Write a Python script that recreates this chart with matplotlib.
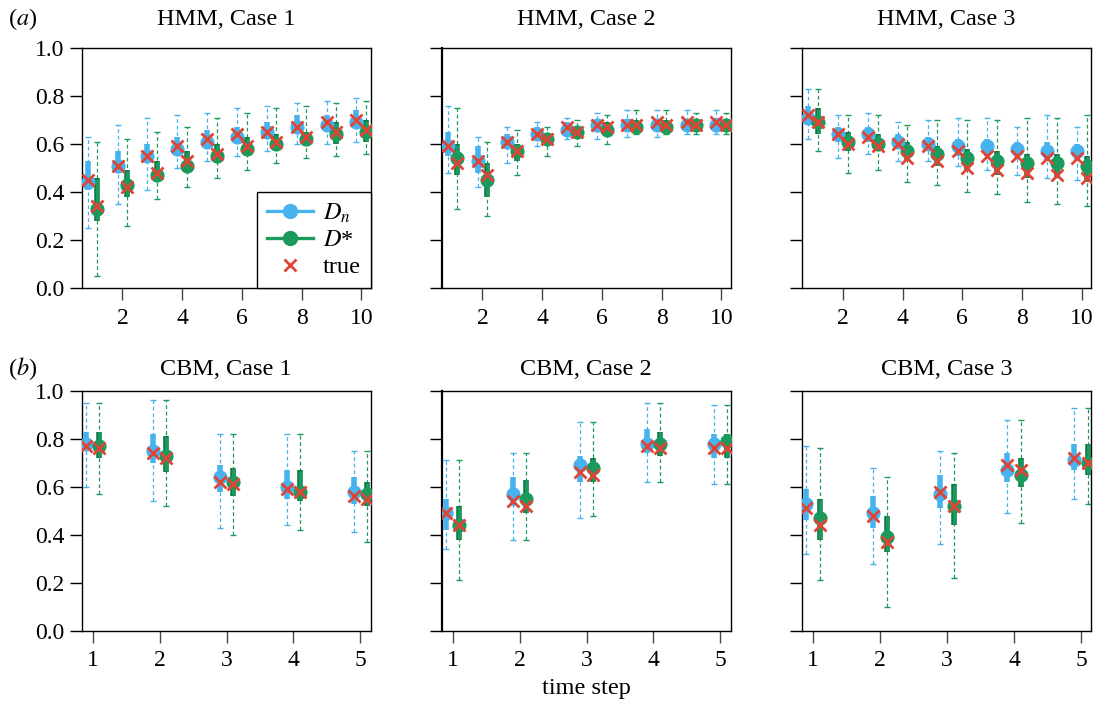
import matplotlib
matplotlib.use("Agg")
import matplotlib.pyplot as plt
from matplotlib.lines import Line2D
import numpy as np

plt.rcParams['font.family'] = ['Liberation Serif', 'DejaVu Serif']
plt.rcParams['mathtext.fontset'] = 'stix'

# ------------ data ------------------------------------- #
hmm_steps = [1, 2, 3, 4, 5, 6, 7, 8, 9, 10]
cbm_steps = [1, 2, 3, 4, 5]

# HMM, Case 1
h1_dn_lo   = [0.25, 0.35, 0.41, 0.50, 0.53, 0.55, 0.57, 0.60, 0.60, 0.61]
h1_dn_q1   = [0.41, 0.48, 0.52, 0.56, 0.59, 0.61, 0.62, 0.65, 0.66, 0.67]
h1_dn_med  = [0.44, 0.51, 0.55, 0.58, 0.61, 0.63, 0.65, 0.67, 0.68, 0.69]
h1_dn_q3   = [0.53, 0.57, 0.60, 0.63, 0.66, 0.67, 0.69, 0.72, 0.72, 0.74]
h1_dn_hi   = [0.63, 0.68, 0.71, 0.72, 0.73, 0.75, 0.76, 0.77, 0.78, 0.79]
h1_dn_true = [0.45, 0.51, 0.55, 0.59, 0.62, 0.64, 0.65, 0.67, 0.69, 0.70]
h1_ds_lo   = [0.05, 0.26, 0.37, 0.42, 0.46, 0.49, 0.52, 0.54, 0.55, 0.56]
h1_ds_q1   = [0.28, 0.38, 0.44, 0.49, 0.52, 0.55, 0.57, 0.59, 0.60, 0.61]
h1_ds_med  = [0.33, 0.43, 0.47, 0.51, 0.55, 0.58, 0.60, 0.62, 0.64, 0.65]
h1_ds_q3   = [0.46, 0.49, 0.53, 0.57, 0.60, 0.63, 0.64, 0.65, 0.69, 0.70]
h1_ds_hi   = [0.61, 0.62, 0.65, 0.67, 0.71, 0.73, 0.75, 0.76, 0.77, 0.78]
h1_ds_true = [0.34, 0.42, 0.48, 0.53, 0.56, 0.59, 0.61, 0.63, 0.65, 0.66]

# HMM, Case 2
h2_dn_lo   = [0.48, 0.42, 0.52, 0.59, 0.62, 0.62, 0.63, 0.63, 0.64, 0.64]
h2_dn_q1   = [0.55, 0.48, 0.58, 0.62, 0.64, 0.65, 0.66, 0.66, 0.66, 0.66]
h2_dn_med  = [0.59, 0.53, 0.61, 0.64, 0.66, 0.68, 0.68, 0.68, 0.68, 0.68]
h2_dn_q3   = [0.65, 0.59, 0.64, 0.67, 0.69, 0.70, 0.70, 0.70, 0.70, 0.71]
h2_dn_hi   = [0.76, 0.63, 0.67, 0.69, 0.71, 0.73, 0.74, 0.74, 0.74, 0.74]
h2_dn_true = [0.59, 0.53, 0.61, 0.64, 0.67, 0.68, 0.68, 0.69, 0.69, 0.69]
h2_ds_lo   = [0.33, 0.30, 0.47, 0.55, 0.59, 0.60, 0.64, 0.64, 0.64, 0.64]
h2_ds_q1   = [0.47, 0.38, 0.53, 0.60, 0.63, 0.64, 0.65, 0.65, 0.65, 0.65]
h2_ds_med  = [0.54, 0.45, 0.57, 0.62, 0.65, 0.66, 0.67, 0.67, 0.68, 0.68]
h2_ds_q3   = [0.60, 0.52, 0.60, 0.64, 0.67, 0.69, 0.70, 0.70, 0.70, 0.70]
h2_ds_hi   = [0.75, 0.61, 0.66, 0.67, 0.70, 0.72, 0.74, 0.74, 0.73, 0.73]
h2_ds_true = [0.52, 0.47, 0.57, 0.62, 0.65, 0.67, 0.68, 0.68, 0.68, 0.68]

# HMM, Case 3
h3_dn_lo   = [0.62, 0.54, 0.56, 0.53, 0.53, 0.51, 0.49, 0.47, 0.46, 0.45]
h3_dn_q1   = [0.68, 0.61, 0.61, 0.58, 0.57, 0.55, 0.55, 0.54, 0.53, 0.53]
h3_dn_med  = [0.71, 0.64, 0.64, 0.61, 0.60, 0.59, 0.59, 0.58, 0.57, 0.57]
h3_dn_q3   = [0.76, 0.67, 0.67, 0.64, 0.63, 0.62, 0.62, 0.61, 0.61, 0.60]
h3_dn_hi   = [0.83, 0.72, 0.73, 0.69, 0.70, 0.71, 0.71, 0.67, 0.72, 0.67]
h3_dn_true = [0.72, 0.64, 0.63, 0.60, 0.59, 0.57, 0.55, 0.55, 0.54, 0.54]
h3_ds_lo   = [0.57, 0.48, 0.49, 0.44, 0.43, 0.40, 0.39, 0.36, 0.35, 0.34]
h3_ds_q1   = [0.64, 0.57, 0.57, 0.53, 0.51, 0.49, 0.47, 0.46, 0.46, 0.44]
h3_ds_med  = [0.69, 0.61, 0.60, 0.57, 0.56, 0.54, 0.53, 0.52, 0.52, 0.51]
h3_ds_q3   = [0.75, 0.65, 0.64, 0.61, 0.59, 0.58, 0.57, 0.56, 0.56, 0.55]
h3_ds_hi   = [0.83, 0.72, 0.72, 0.68, 0.70, 0.70, 0.70, 0.71, 0.71, 0.72]
h3_ds_true = [0.69, 0.60, 0.59, 0.54, 0.53, 0.50, 0.49, 0.48, 0.47, 0.46]

# CBM, Case 1
c1_dn_lo   = [0.60, 0.54, 0.43, 0.44, 0.41]
c1_dn_q1   = [0.75, 0.70, 0.58, 0.55, 0.53]
c1_dn_med  = [0.78, 0.75, 0.64, 0.60, 0.58]
c1_dn_q3   = [0.83, 0.82, 0.69, 0.67, 0.64]
c1_dn_hi   = [0.95, 0.96, 0.82, 0.82, 0.75]
c1_dn_true = [0.77, 0.74, 0.62, 0.59, 0.56]
c1_ds_lo   = [0.57, 0.52, 0.40, 0.42, 0.37]
c1_ds_q1   = [0.72, 0.66, 0.56, 0.54, 0.52]
c1_ds_med  = [0.77, 0.73, 0.62, 0.58, 0.57]
c1_ds_q3   = [0.83, 0.81, 0.68, 0.67, 0.62]
c1_ds_hi   = [0.95, 0.96, 0.82, 0.82, 0.75]
c1_ds_true = [0.76, 0.72, 0.61, 0.58, 0.55]

# CBM, Case 2
c2_dn_lo   = [0.34, 0.38, 0.47, 0.62, 0.61]
c2_dn_q1   = [0.42, 0.52, 0.62, 0.74, 0.72]
c2_dn_med  = [0.49, 0.57, 0.69, 0.78, 0.78]
c2_dn_q3   = [0.55, 0.64, 0.73, 0.84, 0.82]
c2_dn_hi   = [0.71, 0.74, 0.87, 0.95, 0.94]
c2_dn_true = [0.49, 0.54, 0.66, 0.77, 0.76]
c2_ds_lo   = [0.21, 0.38, 0.48, 0.62, 0.61]
c2_ds_q1   = [0.38, 0.49, 0.62, 0.73, 0.72]
c2_ds_med  = [0.44, 0.55, 0.68, 0.78, 0.79]
c2_ds_q3   = [0.52, 0.63, 0.72, 0.83, 0.82]
c2_ds_hi   = [0.71, 0.74, 0.87, 0.95, 0.94]
c2_ds_true = [0.44, 0.52, 0.65, 0.76, 0.76]

# CBM, Case 3
c3_dn_lo   = [0.32, 0.28, 0.36, 0.49, 0.55]
c3_dn_q1   = [0.46, 0.43, 0.51, 0.62, 0.67]
c3_dn_med  = [0.53, 0.49, 0.57, 0.67, 0.71]
c3_dn_q3   = [0.59, 0.56, 0.65, 0.74, 0.78]
c3_dn_hi   = [0.77, 0.68, 0.75, 0.88, 0.93]
c3_dn_true = [0.51, 0.48, 0.58, 0.69, 0.72]
c3_ds_lo   = [0.21, 0.10, 0.22, 0.45, 0.53]
c3_ds_q1   = [0.38, 0.33, 0.44, 0.60, 0.65]
c3_ds_med  = [0.47, 0.39, 0.52, 0.65, 0.70]
c3_ds_q3   = [0.55, 0.48, 0.61, 0.72, 0.78]
c3_ds_hi   = [0.76, 0.64, 0.74, 0.88, 0.93]
c3_ds_true = [0.44, 0.37, 0.52, 0.67, 0.70]

titles = ['HMM, Case 1', 'HMM, Case 2', 'HMM, Case 3',
          'CBM, Case 1', 'CBM, Case 2', 'CBM, Case 3']

# ------------ estilo -------------- #
BLUE = '#47B2EE'
GREEN = '#1A9A5C'
GREEN_DK = '#0B7A45'
RED = '#DF4537'

W, H = 1100, 702
fig = plt.figure(figsize=(W / 100, H / 100), dpi=100)

col_left = [81.5, 441.5, 802]
ax_w = 289
row_top = [48, 390.7]
ax_h = 240


def draw_series(ax, x, lo, q1, med, q3, hi, true, color, box_edge=None):
    x = np.asarray(x, dtype=float)
    # whiskers (dashed) with small caps
    ax.vlines(x, lo, hi, colors=color, linestyles=(0, (3, 2.2)), linewidth=0.9, zorder=2)
    ax.plot(x, lo, linestyle='none', marker='_', ms=4, mew=1.0, color=color, zorder=2)
    ax.plot(x, hi, linestyle='none', marker='_', ms=4, mew=1.0, color=color, zorder=2)
    # box
    if box_edge is not None:
        ax.vlines(x, q1, q3, colors=box_edge, linewidth=4.0, zorder=3)
        ax.vlines(x, np.array(q1) + 0.004, np.array(q3) - 0.004, colors=color, linewidth=2.2, zorder=3)
    else:
        ax.vlines(x, q1, q3, colors=color, linewidth=4.0, zorder=3)
    # median dot
    ax.plot(x, med, linestyle='none', marker='o', ms=9.2, color=color, mec=color, zorder=4)
    # true
    ax.plot(x, true, linestyle='none', marker='x', ms=8, mew=2.0, color=RED, zorder=5)


panels = [
    (hmm_steps, 0.16, (h1_dn_lo, h1_dn_q1, h1_dn_med, h1_dn_q3, h1_dn_hi, h1_dn_true),
     (h1_ds_lo, h1_ds_q1, h1_ds_med, h1_ds_q3, h1_ds_hi, h1_ds_true)),
    (hmm_steps, 0.16, (h2_dn_lo, h2_dn_q1, h2_dn_med, h2_dn_q3, h2_dn_hi, h2_dn_true),
     (h2_ds_lo, h2_ds_q1, h2_ds_med, h2_ds_q3, h2_ds_hi, h2_ds_true)),
    (hmm_steps, 0.16, (h3_dn_lo, h3_dn_q1, h3_dn_med, h3_dn_q3, h3_dn_hi, h3_dn_true),
     (h3_ds_lo, h3_ds_q1, h3_ds_med, h3_ds_q3, h3_ds_hi, h3_ds_true)),
    (cbm_steps, 0.10, (c1_dn_lo, c1_dn_q1, c1_dn_med, c1_dn_q3, c1_dn_hi, c1_dn_true),
     (c1_ds_lo, c1_ds_q1, c1_ds_med, c1_ds_q3, c1_ds_hi, c1_ds_true)),
    (cbm_steps, 0.10, (c2_dn_lo, c2_dn_q1, c2_dn_med, c2_dn_q3, c2_dn_hi, c2_dn_true),
     (c2_ds_lo, c2_ds_q1, c2_ds_med, c2_ds_q3, c2_ds_hi, c2_ds_true)),
    (cbm_steps, 0.10, (c3_dn_lo, c3_dn_q1, c3_dn_med, c3_dn_q3, c3_dn_hi, c3_dn_true),
     (c3_ds_lo, c3_ds_q1, c3_ds_med, c3_ds_q3, c3_ds_hi, c3_ds_true)),
]

axes = []
for k, (steps, off, dn, ds) in enumerate(panels):
    r, c = divmod(k, 3)
    left = col_left[c] / W
    bottom = (H - row_top[r] - ax_h) / H
    ax = fig.add_axes([left, bottom, ax_w / W, ax_h / H])
    axes.append(ax)

    xs = np.array(steps, dtype=float)
    draw_series(ax, xs - off, *dn, BLUE)
    draw_series(ax, xs + off, *ds, GREEN, box_edge=GREEN_DK)

    ax.set_ylim(0, 1)
    ax.set_yticks([0.0, 0.2, 0.4, 0.6, 0.8, 1.0])
    if r == 0:
        ax.set_xlim(0.63, 10.31)
        ax.set_xticks([2, 4, 6, 8, 10])
    else:
        ax.set_xlim(0.835, 5.15)
        ax.set_xticks([1, 2, 3, 4, 5])

    if c == 0:
        ax.set_yticklabels(['0.0', '0.2', '0.4', '0.6', '0.8', '1.0'])
    else:
        ax.set_yticklabels([])

    ax.tick_params(axis='y', direction='out', length=8.6, width=1.0, pad=4.0,
                   labelsize=17, color='black')
    ax.tick_params(axis='x', direction='out', length=8.6, width=1.0, pad=5.5,
                   labelsize=17, color='#444444')
    for sp in ax.spines.values():
        sp.set_linewidth(1.0)
        sp.set_color('black')
    if c == 1:
        ax.spines['left'].set_linewidth(1.6)

    # titulo
    ybase = [25, 375][r]
    fig.text((col_left[c] + ax_w / 2) / W, (H - ybase) / H, titles[k],
             ha='center', va='baseline', fontsize=17.5)

# rotulos dos paineis
fig.text(8 / W, (H - 25) / H, '($a$)', ha='left', va='baseline', fontsize=17.5)
fig.text(8 / W, (H - 375) / H, '($b$)', ha='left', va='baseline', fontsize=17.5)

# eixo x
fig.text((col_left[1] + ax_w / 2) / W, (H - 694) / H, 'time step',
         ha='center', va='baseline', fontsize=17.5)

# legenda
handles = [
    Line2D([], [], color=BLUE, lw=2.4, marker='o', ms=10),
    Line2D([], [], color=GREEN, lw=2.4, marker='o', ms=10),
    Line2D([], [], color=RED, lw=0, marker='x', ms=8, mew=2.0),
]
leg = axes[0].legend(handles, ['$D_n$', '$D$*', 'true'], loc='lower right',
                     borderaxespad=0, fancybox=False, framealpha=1,
                     edgecolor='black', fontsize=17.5, handlelength=1.9,
                     handletextpad=0.4, labelspacing=0.2, borderpad=0.4)
leg.get_frame().set_linewidth(1.0)

fig.savefig('out.png', dpi=100)
